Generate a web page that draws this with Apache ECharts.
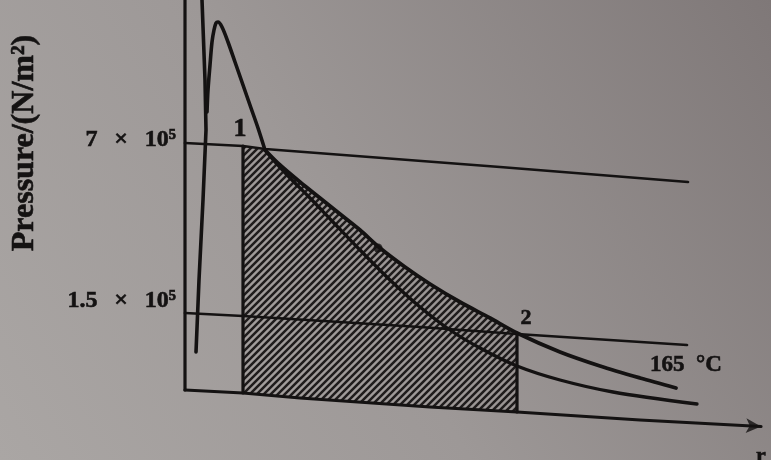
<!DOCTYPE html>
<html>
<head>
<meta charset="utf-8">
<script src="https://cdn.jsdelivr.net/npm/echarts@6/dist/echarts.min.js"></script>
<style>
  html, body { margin: 0; padding: 0; }
  #chart { width: 771px; height: 460px; }
</style>
</head>
<body>
<div id="chart"></div>
<script>
// Schematic p–V diagram. Units: x = volume (arbitrary), y = height on the pressure scale (arbitrary).

// Axes of the diagram
const pressureAxis = [[0, 0], [0, 39]];
const volumeAxis = [[0, 0], [5.8, -0.3], [11.5, -0.8], [24.5, -1.7], [33.2, -2.2], [45.5, -3.0], [57.6, -3.65]];
const volumeArrowTip = [[57.6, -3.65]];

// Pressure levels (7 × 10^5 and 1.5 × 10^5 N/m²)
const highPressureLine = [[0, 24.7], [5.8, 24.4], [8.0, 24.1], [31.5, 22.3], [50.3, 20.8]];
const lowPressureLine = [[0, 7.7], [5.8, 7.4], [23.5, 6.3], [33.2, 5.6], [50.2, 4.5]];
const tickLabels = ['7 × 10⁵', '1.5 × 10⁵'];
const tickLabelY = [25.0, 8.9];

// Left steep stroke, the spike, and the expansion curve through points 1 and 2
const leftStroke = [[1.7, 39], [2.0, 31], [2.1, 26], [1.8, 19], [1.4, 11], [1.1, 3.8]];
const spike = [
  [2.2, 27.8], [2.3, 30.0], [2.5, 32.5], [2.7, 34.8], [2.9, 36.0], [3.1, 36.7], [3.3, 36.8],
  [3.7, 36.3], [4.3, 34.8], [5.0, 32.8], [5.8, 30.5], [6.6, 28.2], [7.3, 26.2], [8.0, 24.0]
];
const expansionCurve = [
  [8.0, 24.0], [9.5, 22.5], [11.5, 20.8], [13.5, 19.2], [15.5, 17.6], [17.5, 16.0], [19.5, 14.2],
  [22.0, 12.3], [24.5, 10.6], [27.5, 8.8], [30.5, 7.2], [33.2, 5.7], [37.5, 3.8], [41.5, 2.4],
  [45.5, 1.2], [49.1, 0.2]
];
const lowerCurve = [
  [8.0, 24.0], [9.0, 22.8], [10.5, 21.2], [12.5, 19.2], [14.8, 16.8], [17.5, 14.0], [20.5, 11.0],
  [23.5, 8.3], [26.5, 6.0], [29.5, 4.2], [33.2, 2.4], [37.5, 1.0], [42.8, -0.2], [51.2, -1.4]
];

// Boundaries of the shaded work area
const leftBound = [[5.8, 24.4], [5.8, -0.3]];
const rightBound = [[33.2, 5.7], [33.2, -2.2]];
const midPoint = [[19.3, 14.2]];

// Point labels
const pointLabels = ['1', '2', '165\u2002°C'];
const pointLabelPos = [[5.5, 26.1], [34.1, 7.2], [50.1, 2.5]];
const yTitle = 'Pressure/(N/m²)';
const yTitlePos = [-16.0, 24.7];
const xTitle = 'r';
const xTitlePos = [57.6, -6.6];

const INK = '#141212';
const FONT = "'Liberation Serif', 'Times New Roman', serif";

// Shaded region: along the high-pressure line to point 1, down the curve to point 2, back along the volume axis
const hatchPolygon = [[5.8, 24.4]]
  .concat(expansionCurve.filter(p => p[0] <= 33.2))
  .concat([[33.2, -2.2], [24.5, -1.7], [11.5, -0.8], [5.8, -0.3]]);

function hatchPattern() {
  const s = 7;
  const c = document.createElement('canvas');
  c.width = s; c.height = s;
  const g = c.getContext('2d');
  g.strokeStyle = '#1f1c1c';
  g.lineWidth = 2.5;
  g.beginPath();
  g.moveTo(-1, s + 1); g.lineTo(s + 1, -1);
  g.moveTo(-1, 1); g.lineTo(1, -1);
  g.moveTo(s - 1, s + 1); g.lineTo(s + 1, s - 1);
  g.stroke();
  return c;
}
const pattern = { image: hatchPattern(), repeat: 'repeat' };

// Widen the gaps around the multiplication sign, as typeset on the axis
function spacedTick(t) {
  return t.replace(/ /g, '\u2002\u2009');
}

function lineSeries(data, width, smooth) {
  return {
    type: 'line', data: data, symbol: 'none', smooth: smooth || false, z: 3,
    lineStyle: { color: INK, width: width, cap: 'round', join: 'round' },
    silent: true
  };
}

// Text is drawn with the custom series so it keeps full ink colour
function textSeries(items) {
  return {
    type: 'custom', z: 6, silent: true,
    data: items.map(it => it.value),
    renderItem: function (params, api) {
      const it = items[params.dataIndex];
      const p = api.coord(it.value);
      return {
        type: 'text',
        x: p[0], y: p[1],
        rotation: it.rotate ? Math.PI / 2 : 0,
        style: {
          text: it.text,
          fill: INK, stroke: INK, lineWidth: 0.6,
          font: 'bold ' + it.size + 'px ' + FONT,
          align: it.align || 'center', verticalAlign: 'middle'
        }
      };
    }
  };
}

const labelSizes = [26, 22, 23];
const textItems = []
  .concat(tickLabels.map((t, i) => ({ value: [-0.9, tickLabelY[i]], text: spacedTick(t), size: 24, align: 'right' })))
  .concat(pointLabels.map((t, i) => ({ value: pointLabelPos[i], text: t, size: labelSizes[i] })))
  .concat([
    { value: yTitlePos, text: yTitle, size: 32, rotate: true },
    { value: xTitlePos, text: xTitle, size: 22 }
  ]);

const chart = echarts.init(document.getElementById('chart'), null, { renderer: 'canvas' });

chart.setOption({
  animation: false,
  backgroundColor: {
    type: 'linear', x: 0, y: 1, x2: 1, y2: 0,
    colorStops: [
      { offset: 0, color: '#aaa6a4' },
      { offset: 0.45, color: '#9d9897' },
      { offset: 1, color: '#7f7878' }
    ]
  },
  grid: { left: 0, right: 0, top: 0, bottom: 0 },
  xAxis: { type: 'value', min: -18.5, max: 58.6, show: false },
  yAxis: { type: 'value', min: -7, max: 39, show: false },
  series: [
    {
      type: 'custom', z: 1, silent: true,
      data: [[0, 0]],
      renderItem: function (params, api) {
        return {
          type: 'polygon',
          shape: { points: hatchPolygon.map(p => api.coord(p)) },
          style: { fill: pattern, stroke: null }
        };
      }
    },
    lineSeries(pressureAxis, 3.2),
    lineSeries(volumeAxis, 3.2),
    {
      type: 'scatter', data: volumeArrowTip, symbol: 'arrow', symbolSize: [11, 15],
      symbolRotate: -93.3, itemStyle: { color: INK }, z: 4, silent: true
    },
    lineSeries(highPressureLine, 2.7),
    lineSeries(lowPressureLine, 2.7),
    lineSeries(leftStroke, 3.6),
    lineSeries(spike, 3.6, 0.3),
    lineSeries(expansionCurve, 3.8, 0.3),
    lineSeries(lowerCurve, 3.3, 0.3),
    lineSeries(leftBound, 3.2),
    lineSeries(rightBound, 3.2),
    {
      type: 'scatter', data: midPoint, symbol: 'circle', symbolSize: 9,
      itemStyle: { color: INK }, z: 5, silent: true
    },
    textSeries(textItems)
  ]
});
</script>
</body>
</html>
